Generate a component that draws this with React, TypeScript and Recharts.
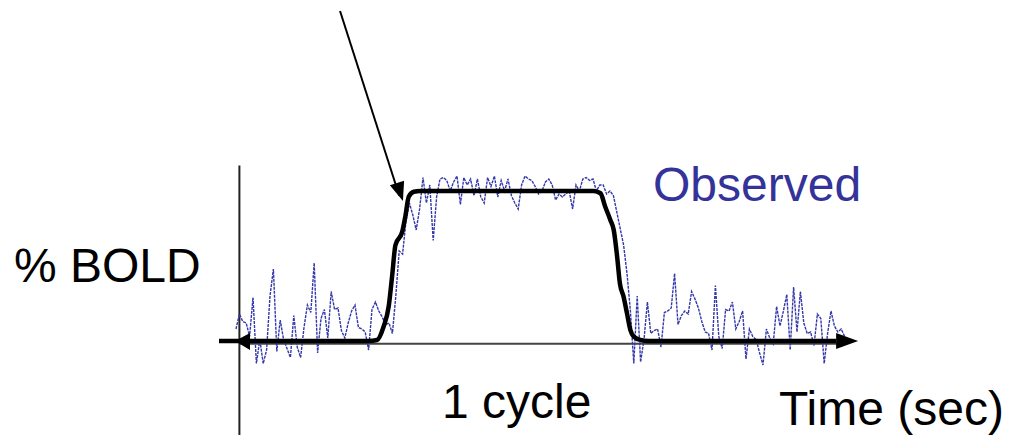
import React from 'react';
import { LineChart, Line, XAxis, YAxis, ReferenceLine, ReferenceDot } from 'recharts';

// observed BOLD signal, one value per scan (first scan is -1)
const obsStart = -1;
const observed = [
  8, 18, 13, 12, 3, 29, -15, 1, -15, -6, 30, 48, -7, 14, 1, -5, -11, 17, -4, -11,
  9, 24, 19, 52, -8, 15, 21, 2, 33, 21, 22, 7, 2, 12, 20, 24, 9, 8, 6, -6,
  21, 26, 20, 16, 11, 12, 5, 30, 60, 58, 80, 92, 84, 74, 88, 109, 92, 104, 67, 96,
  108, 109, 107, 100, 106, 110, 91, 109, 104, 108, 97, 108, 96, 92, 109, 103, 110, 96, 107, 100,
  108, 97, 92, 88, 104, 110, 108, 107, 103, 98, 100, 106, 108, 104, 94, 98, 96, 98, 100, 88,
  104, 100, 108, 109, 107, 108, 100, 104, 104, 98, 100, 97, 86, 75, 64, 45, 20, -15, 30, -14,
  1, 26, 5, 7, 8, -4, 19, 20, 22, 45, 11, 17, 20, 18, 33, 28, 22, 13, 6, 5,
  -6, 37, 3, -5, 21, 20, 26, 8, 13, 20, -12, 8, 3, 1, -8, -16, 8, 2, -2, 23,
  10, 20, 31, -6, 36, 6, 33, 12, 5, 6, -3, 18, 15, -15, 5, 20, 10, 6, 8, 3,
];

// predicted (model) response
const modelTime = [-6, 0, 38, 40.5, 42.4, 43.9, 44.9, 45.9, 47.9, 48.8, 49.8, 51.3, 53.2, 104.2, 106.2, 107.6, 109.1, 110.1, 111.1, 111.9, 113.0, 114.0, 115.0, 116.0, 117.9, 120.3, 175.5];
const modelValue = [0, 0, 0, 0.7, 9.5, 22.9, 42.9, 64, 72.9, 82.9, 96.2, 99.5, 100, 100, 98.5, 89.5, 80.7, 74, 56.2, 38.5, 29.5, 18.4, 7.3, 2.9, 0.7, 0, 0];

const obsData = observed.map((v, i) => ({ t: obsStart + i, v }));
const modelData = modelTime.map((t, i) => ({ t, v: modelValue[i] }));

const FONT = '"Liberation Sans", Arial, sans-serif';

const RightHead = (p: any) => (
  <polygon points={`${p.cx},${p.cy - 8} ${p.cx + 22},${p.cy} ${p.cx},${p.cy + 8}`} fill="#000" />
);
const LeftHead = (p: any) => (
  <polygon points={`${p.cx},${p.cy} ${p.cx + 15},${p.cy - 8} ${p.cx + 15},${p.cy + 9}`} fill="#000" />
);
const PointerHead = (p: any) => (
  <polygon
    points="0,0 -19,-7.5 -19,7.5"
    fill="#000"
    transform={`translate(${p.cx},${p.cy}) rotate(71.7)`}
  />
);

export default function App() {
  return (
    <div style={{ position: 'absolute', left: 0, top: 0, width: 1011, height: 435, background: '#fff' }}>
      <LineChart width={1011} height={435} margin={{ top: 11, right: 159.6, bottom: 4, left: 219 }}>
        <XAxis type="number" dataKey="t" domain={[-6, 180]} hide allowDataOverflow />
        <YAxis type="number" domain={[-60, 220]} hide allowDataOverflow />
        <ReferenceLine
          segment={[{ x: 0, y: 117 }, { x: 0, y: -63 }]}
          ifOverflow="visible"
          stroke="#222"
          strokeWidth={2}
        />
        <ReferenceLine
          segment={[{ x: 0, y: -1.8 }, { x: 176, y: -1.8 }]}
          stroke="#444"
          strokeWidth={2}
        />
        <Line
          data={obsData}
          dataKey="v"
          type="linear"
          stroke="#3438a8"
          strokeWidth={1.4}
          strokeDasharray="3 1"
          dot={false}
          isAnimationActive={false}
        />
        <Line
          data={modelData}
          dataKey="v"
          type="monotone"
          stroke="#000"
          strokeWidth={4.5}
          strokeLinejoin="round"
          dot={false}
          isAnimationActive={false}
        />
        <ReferenceDot x={175.5} y={0} r={0} shape={RightHead} ifOverflow="visible" />
        <ReferenceDot x={-1.3} y={0} r={0} shape={LeftHead} ifOverflow="visible" />
        <ReferenceLine
          segment={[{ x: 29.6, y: 220 }, { x: 47, y: 97 }]}
          ifOverflow="visible"
          stroke="#000"
          strokeWidth={2}
        />
        <ReferenceDot x={48.1} y={93.3} r={0} shape={PointerHead} ifOverflow="visible" />
      </LineChart>
      <svg width={1011} height={435} style={{ position: 'absolute', left: 0, top: 0, pointerEvents: 'none' }}>
        <text x={14} y={282} fontFamily={FONT} fontSize={48} fill="#000">% BOLD</text>
        <text x={653} y={201} fontFamily={FONT} fontSize={48} fill="#333399">Observed</text>
        <text x={442} y={418} fontFamily={FONT} fontSize={48} fill="#000">1 cycle</text>
        <text x={779} y={425} fontFamily={FONT} fontSize={48} fill="#000">Time (sec)</text>
      </svg>
    </div>
  );
}
